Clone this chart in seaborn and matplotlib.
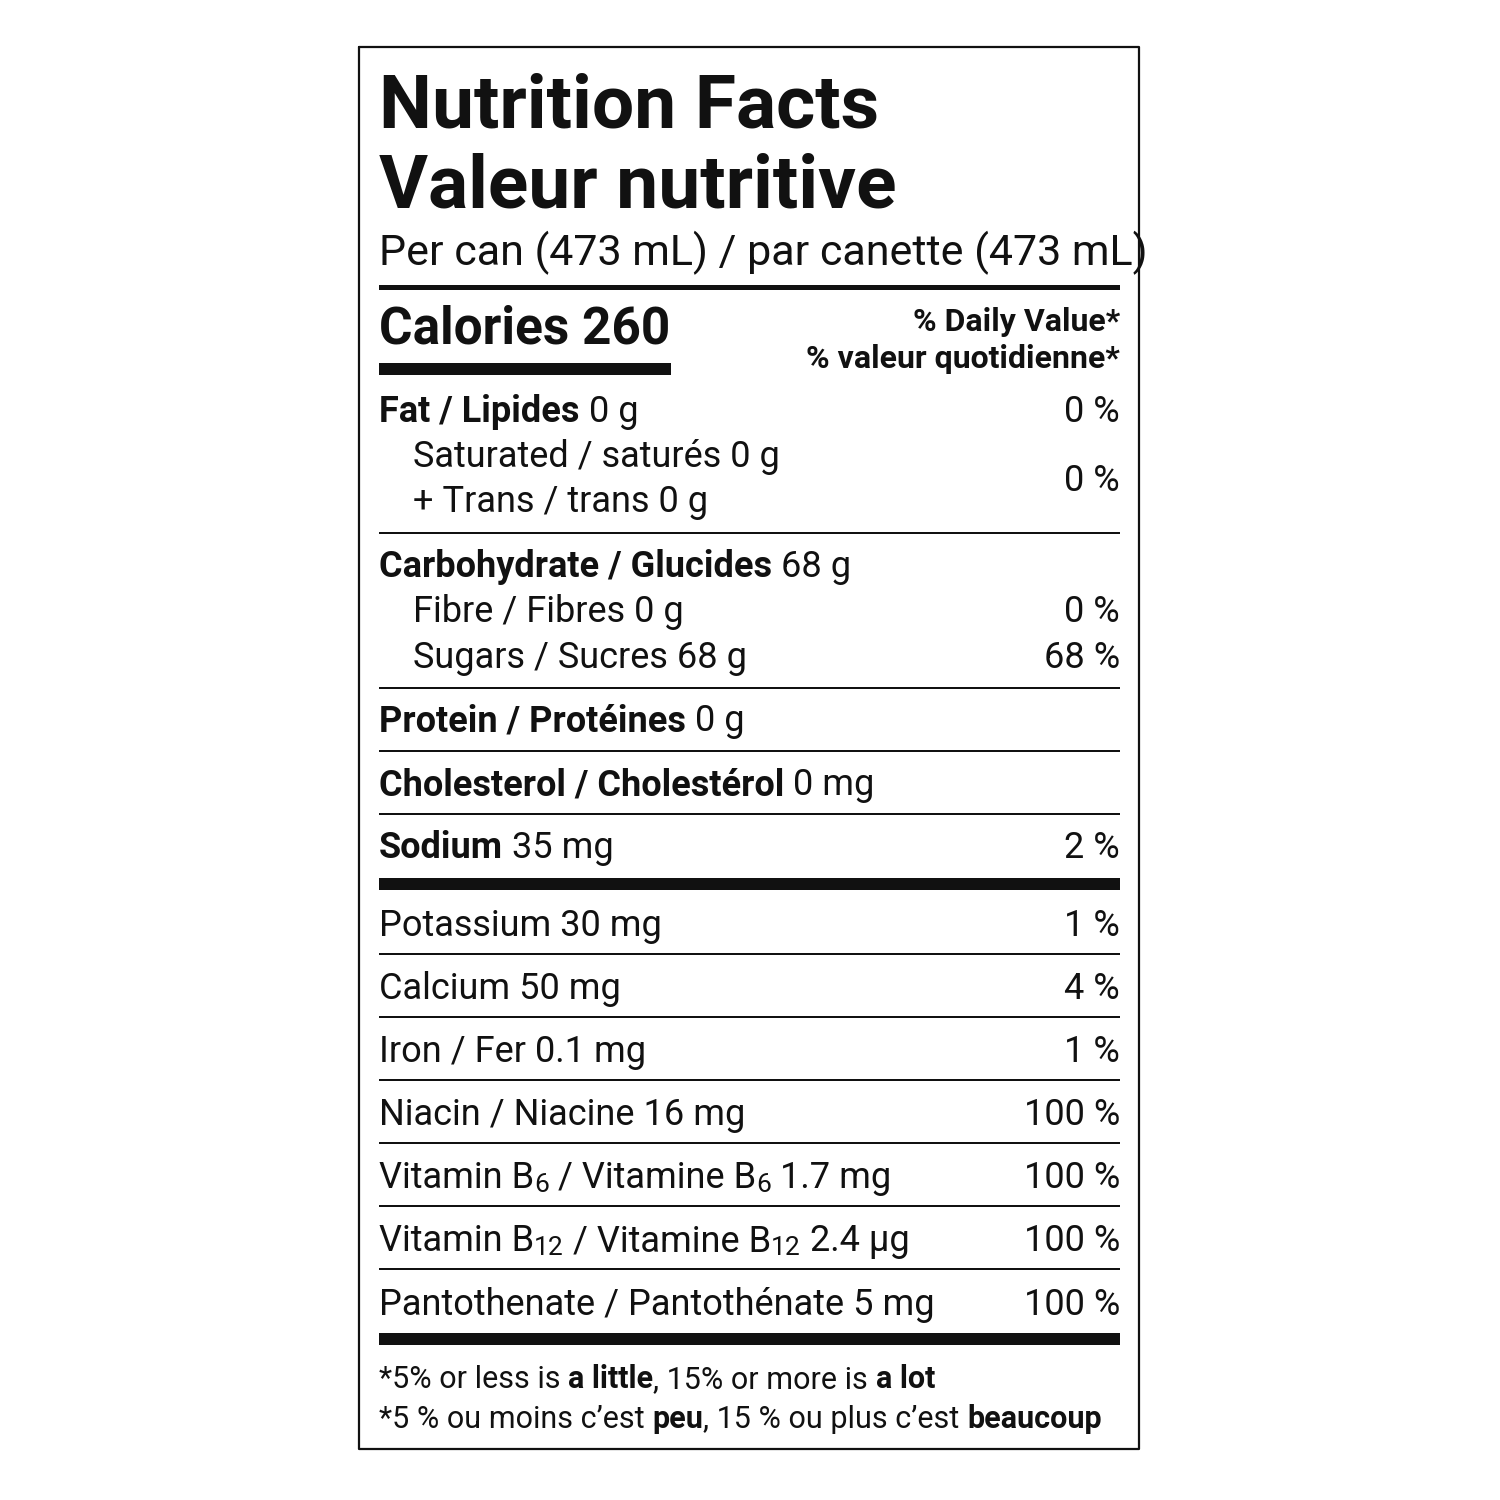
import matplotlib
matplotlib.use("Agg")
import matplotlib.pyplot as plt
import seaborn as sns

sns.set_theme(style="white")
FAM = ["Liberation Sans Narrow", "Roboto", "DejaVu Sans"]
plt.rcParams['font.family'] = FAM

title_en = "Nutrition Facts"
title_fr = "Valeur nutritive"
serving = "Per can (473 mL) / par canette (473 mL)"
calories = 260
dv_en = "% Daily Value*"
dv_fr = "% valeur quotidienne*"

# main rows: (bold label, amount, percent, indent)
fat = ("Fat / Lipides", "0 g", "0 %")
sat = "Saturated / saturés 0 g"
trans = "+ Trans / trans 0 g"
sat_trans_pct = "0 %"
carb = ("Carbohydrate / Glucides", "68 g", "")
fibre = ("Fibre / Fibres 0 g", "0 %")
sugars = ("Sugars / Sucres 68 g", "68 %")
protein = ("Protein / Protéines", "0 g", "")
chol = ("Cholesterol / Cholestérol", "0 mg", "")
sodium = ("Sodium", "35 mg", "2 %")
minerals = [
    [("Potassium 30 mg", 0)],
    [("Calcium 50 mg", 0)],
    [("Iron / Fer 0.1 mg", 0)],
    [("Niacin / Niacine 16 mg", 0)],
    [("Vitamin B", 0), ("6", 1), (" / Vitamine B", 0), ("6", 1), (" 1.7 mg", 0)],
    [("Vitamin B", 0), ("12", 1), (" / Vitamine B", 0), ("12", 1), (" 2.4 µg", 0)],
    [("Pantothenate / Pantothénate 5 mg", 0)],
]
mineral_pct = ["1 %", "4 %", "1 %", "100 %", "100 %", "100 %", "100 %"]
foot1 = [("*5% or less is ", "normal"), ("a little", "bold"), (", 15% or more is ", "normal"), ("a lot", "bold")]
foot2 = [("*5 % ou moins c’est ", "normal"), ("peu", "bold"), (", 15 % ou plus c’est ", "normal"), ("beaucoup", "bold")]

fig = plt.figure(figsize=(15, 15), dpi=100)
ax = fig.add_axes([0, 0, 1, 1])
ax.set_xlim(0, 1500); ax.set_ylim(1500, 0); ax.axis("off")
r = fig.canvas.get_renderer()
L, R = 379, 1120
ROW = 26

def runs(x, y, parts, size=ROW):
    for t, w, s, dy in parts:
        tx = ax.text(x, y + dy, t, fontsize=s, fontweight=w, va="baseline", ha="left", color="#111")
        bb = tx.get_window_extent(renderer=r)
        x += bb.width
    return x

def right(y, t, size=ROW, w="normal"):
    ax.text(R, y, t, fontsize=size, fontweight=w, ha="right", va="baseline", color="#111")

def hline(y, h):
    ax.fill_between([L, R], y - h / 2, y + h / 2, color="#111", lw=0)

# box
ax.plot([359, 1139, 1139, 359, 359], [47, 47, 1449, 1449, 47], color="#111", lw=1.6)

ax.text(L, 128, title_en, fontsize=54, fontweight="bold", va="baseline", color="#111")
ax.text(L, 208, title_fr, fontsize=54, fontweight="bold", va="baseline", color="#111")
ax.text(L, 265, serving, fontsize=31, va="baseline", color="#111")
hline(287, 5)
ax.text(L, 343, f"Calories {calories}", fontsize=37, fontweight="bold", va="baseline", color="#111")
ax.fill_between([L, 671], 363, 375, color="#111", lw=0)
right(331, dv_en, 23, "bold")
right(368, dv_fr, 23, "bold")

runs(L, 422, [(fat[0], "bold", ROW, 0), (" " + fat[1], "normal", ROW, 0)]); right(422, fat[2])
runs(413, 467, [(sat, "normal", ROW, 0)])
runs(413, 512, [(trans, "normal", ROW, 0)])
right(491, sat_trans_pct)
hline(533, 2.5)
runs(L, 577, [(carb[0], "bold", ROW, 0), (" " + carb[1], "normal", ROW, 0)])
runs(413, 622, [(fibre[0], "normal", ROW, 0)]); right(622, fibre[1])
runs(413, 668, [(sugars[0], "normal", ROW, 0)]); right(668, sugars[1])
hline(688, 2.5)
runs(L, 731, [(protein[0], "bold", ROW, 0), (" " + protein[1], "normal", ROW, 0)])
hline(751, 2.5)
runs(L, 795, [(chol[0], "bold", ROW, 0), (" " + chol[1], "normal", ROW, 0)])
hline(814, 2.5)
runs(L, 858, [(sodium[0], "bold", ROW, 0), (" " + sodium[1], "normal", ROW, 0)]); right(858, sodium[2])
hline(884, 12)

ys = [936, 999, 1062, 1125, 1188, 1251, 1315]
for i, (parts, pct, y) in enumerate(zip(minerals, mineral_pct, ys)):
    runs(L, y, [(t, "normal", 19 if sub else ROW, 4 if sub else 0) for t, sub in parts])
    right(y, pct)
    if i < len(ys) - 1:
        hline(y + 18, 2.5)
hline(1339, 12)

runs(L, 1388, [(t, w, 22, 0) for t, w in foot1])
runs(L, 1428, [(t, w, 22, 0) for t, w in foot2])

fig.savefig("out.png", dpi=100, facecolor="white")
